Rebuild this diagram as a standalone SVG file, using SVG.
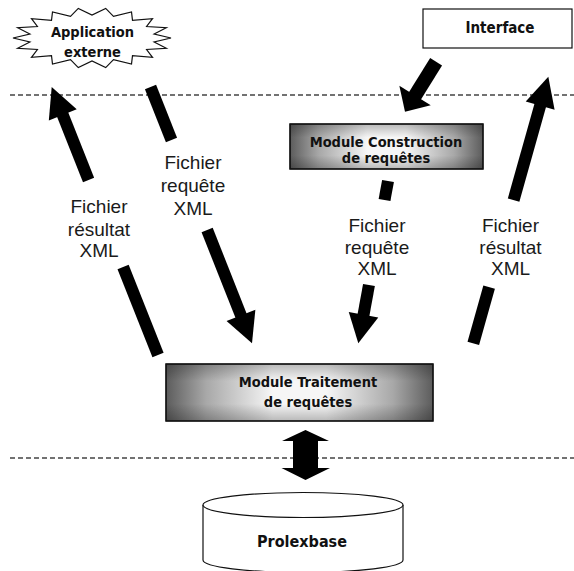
<svg xmlns="http://www.w3.org/2000/svg" width="574" height="571" viewBox="0 0 574 571">
<defs>
<linearGradient id="gh" x1="0" y1="0" x2="1" y2="0">
<stop offset="0" stop-color="#5c5c5c"/>
<stop offset="0.15" stop-color="#a8a8a8"/>
<stop offset="0.4" stop-color="#f6f6f6"/>
<stop offset="0.6" stop-color="#f6f6f6"/>
<stop offset="0.85" stop-color="#a8a8a8"/>
<stop offset="1" stop-color="#5c5c5c"/>
</linearGradient>
<linearGradient id="gv" x1="0" y1="0" x2="0" y2="1">
<stop offset="0" stop-color="#000" stop-opacity="0.25"/>
<stop offset="0.3" stop-color="#000" stop-opacity="0"/>
<stop offset="0.7" stop-color="#000" stop-opacity="0"/>
<stop offset="1" stop-color="#000" stop-opacity="0.25"/>
</linearGradient>
</defs>
<style>
.sep{stroke:#444;stroke-width:1.3;stroke-dasharray:5 3;fill:none}
.box{stroke:#111;stroke-width:1.2}
.plain{fill:#fff;stroke:#111;stroke-width:1.2}
.bt{font-family:"DejaVu Sans Condensed","DejaVu Sans",sans-serif;font-stretch:condensed;font-weight:bold;fill:#111;text-anchor:middle}
.lbl{font-family:"Liberation Sans",Arial,sans-serif;font-size:19px;fill:#1a1a1a;text-anchor:middle}
.arr{fill:#000}
</style>
<rect width="574" height="571" fill="#fff"/>
<g id="separators">
<line class="sep" x1="10" y1="95" x2="574" y2="95"/>
<line class="sep" x1="10" y1="458" x2="574" y2="458"/>
</g>
<g id="node-application">
<polygon class="plain" points="171,38 154.1,34 166.3,27.7 146.6,26.5 152.5,18.7 132.5,20.4 131.5,12 113.5,16.4 105.7,8.4 92,15 78.3,8.4 70.5,16.4 52.5,12 51.5,20.4 31.5,18.7 37.4,26.5 17.7,27.7 29.9,34 13,38 29.9,42 17.7,48.3 37.4,49.5 31.5,57.3 51.5,55.6 52.5,64 70.5,59.6 78.3,67.6 92,61 105.7,67.6 113.5,59.6 131.5,64 132.5,55.6 152.5,57.3 146.6,49.5 166.3,48.3 154.1,42"/>
<text class="bt" x="92.5" y="37" font-size="14.5">Application</text>
<text class="bt" x="92.5" y="57" font-size="14.5">externe</text>
</g>
<g id="node-interface">
<rect class="plain" x="423" y="9" width="149" height="39"/>
<text class="bt" x="500" y="33" font-size="15">Interface</text>
</g>
<g id="node-construction">
<rect class="box" x="290" y="124" width="193" height="45" fill="url(#gh)"/>
<rect x="290" y="124" width="193" height="45" fill="url(#gv)"/>
<rect x="290" y="124" width="193" height="45" fill="none" stroke="#111" stroke-width="1.2"/>
<text class="bt" x="386" y="146.5" font-size="14.5">Module Construction</text>
<text class="bt" x="386" y="163" font-size="14.5">de requêtes</text>
</g>
<g id="node-traitement">
<rect class="box" x="166" y="364" width="267" height="57" fill="url(#gh)"/>
<rect x="166" y="364" width="267" height="57" fill="url(#gv)"/>
<rect x="166" y="364" width="267" height="57" fill="none" stroke="#111" stroke-width="1.2"/>
<text class="bt" x="308" y="386.5" font-size="14.5">Module Traitement</text>
<text class="bt" x="308" y="406.5" font-size="14.5">de requêtes</text>
</g>
<g id="node-prolexbase">
<path class="plain" d="M203,505 L203,560 A100,12.5 0 0 0 403,560 L403,505"/>
<ellipse class="plain" cx="303" cy="505" rx="100" ry="12.5"/>
<text class="bt" x="302" y="547" font-size="16">Prolexbase</text>
</g>
<g id="connectors">
<g class="arr" transform="translate(51.7 87) rotate(-111.64)">
<polygon points="0,0 -30,-15 -30,15"/>
<rect x="-100" y="-6" width="71" height="12"/>
<rect x="-288.3" y="-6" width="94.7" height="12"/>
</g>
<g class="arr" transform="translate(252 343.3) rotate(68.4)">
<polygon points="0,0 -30,-15.5 -30,15.5"/>
<rect x="-121.9" y="-6" width="92.9" height="12"/>
<rect x="-275.7" y="-6" width="57" height="12"/>
</g>
<g class="arr" transform="translate(358.3 343.3) rotate(100.37)">
<polygon points="0,0 -29,-15 -29,15"/>
<rect x="-59.3" y="-6" width="31.3" height="12"/>
<rect x="-165" y="-6" width="19.3" height="12"/>
</g>
<g class="arr" transform="translate(548.3 76.7) rotate(-74.29)">
<polygon points="0,0 -30,-15 -30,15"/>
<rect x="-128.1" y="-6" width="99.1" height="12"/>
<rect x="-277" y="-6" width="58.5" height="12"/>
</g>
<g class="arr" transform="translate(405 111.7) rotate(121.95)">
<polygon points="0,0 -19,-18.5 -19,18.5"/>
<rect x="-58.8" y="-7" width="40.8" height="14"/>
</g>
<polygon class="arr" points="305.5,430 329,441 318,441 318,468 330,468 305.5,480 281.5,468 293,468 293,441 282,441"/>
<text class="lbl" x="99" y="213">Fichier</text>
<text class="lbl" x="99" y="235.5">résultat</text>
<text class="lbl" x="99" y="257">XML</text>
<text class="lbl" x="193" y="169">Fichier</text>
<text class="lbl" x="193" y="192">requête</text>
<text class="lbl" x="193" y="215">XML</text>
<text class="lbl" x="377" y="231.5">Fichier</text>
<text class="lbl" x="377" y="253.5">requête</text>
<text class="lbl" x="377" y="275">XML</text>
<text class="lbl" x="510.5" y="231.5">Fichier</text>
<text class="lbl" x="510.5" y="253.5">résultat</text>
<text class="lbl" x="510.5" y="275">XML</text>
</g>
</svg>
